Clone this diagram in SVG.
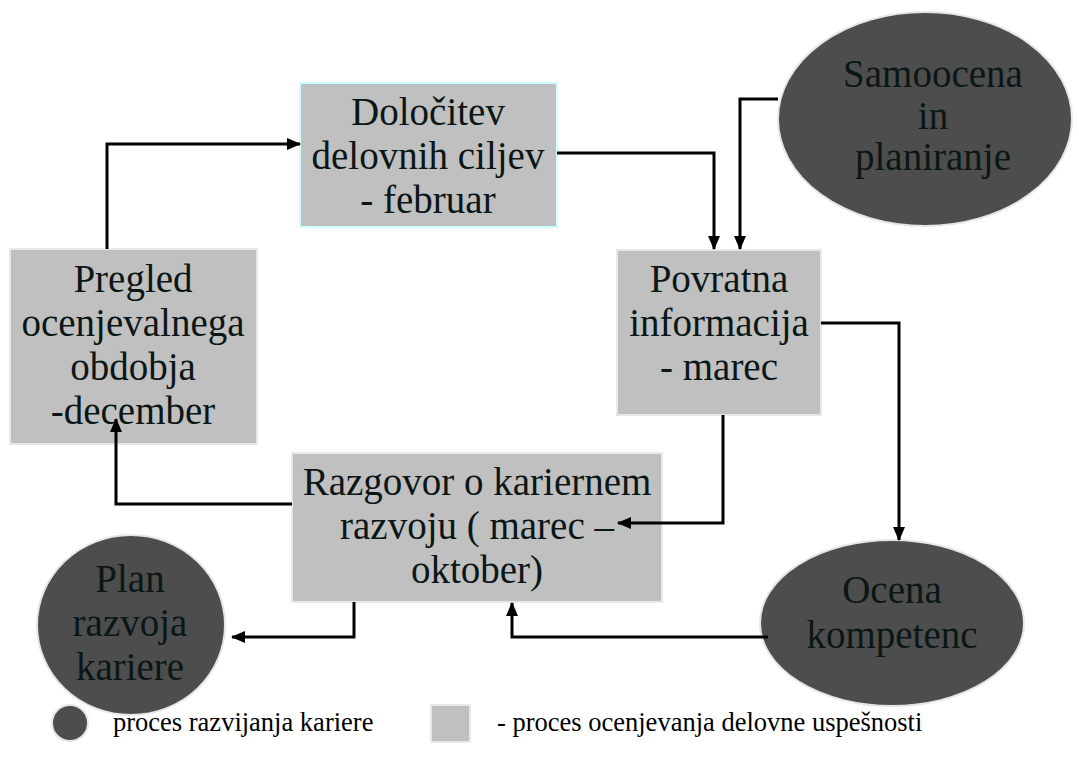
<svg xmlns="http://www.w3.org/2000/svg" width="1079" height="765" viewBox="0 0 1079 765">
  <style>
    .box { fill: #c0c0c0; stroke: #e8e8e8; stroke-width: 2; }
    .oval { fill: #4d4d4d; stroke: #e6e6e6; stroke-width: 2; }
    .lbl { font-size: 39px; fill: #0b1616; text-anchor: middle; }
    .leg { font-size: 26.5px; fill: #000; }
    .wire { fill: none; stroke: #000; stroke-width: 3; marker-end: url(#arrow); }
  </style>
  <defs>
    <marker id="arrow" viewBox="0 0 14 12" refX="13" refY="6" markerWidth="14" markerHeight="12" markerUnits="userSpaceOnUse" orient="auto">
      <path d="M0,0 L14,6 L0,12 Z" fill="#000"/>
    </marker>
  </defs>

  <rect width="1079" height="765" fill="#fff"/>

  <g font-family="'Liberation Serif', 'Times New Roman', serif">
    <!-- process boxes -->
    <g id="dolocitev">
      <rect class="box" x="300" y="83" width="257" height="144" style="stroke:#ccffff"/>
      <text class="lbl" x="428" y="125">Določitev</text>
      <text class="lbl" x="428" y="169">delovnih ciljev</text>
      <text class="lbl" x="428" y="213">- februar</text>
    </g>

    <g id="povratna">
      <rect class="box" x="617" y="250" width="204" height="165"/>
      <text class="lbl" x="719" y="292">Povratna</text>
      <text class="lbl" x="719" y="336">informacija</text>
      <text class="lbl" x="719" y="380">- marec</text>
    </g>

    <g id="razgovor">
      <rect class="box" x="292" y="453" width="370" height="149"/>
      <text class="lbl" x="477" y="495">Razgovor o kariernem</text>
      <text class="lbl" x="477" y="539">razvoju ( marec –</text>
      <text class="lbl" x="477" y="583">oktober)</text>
    </g>

    <g id="pregled">
      <rect class="box" x="10" y="249" width="247" height="195"/>
      <text class="lbl" x="133" y="292">Pregled</text>
      <text class="lbl" x="133" y="336">ocenjevalnega</text>
      <text class="lbl" x="133" y="380">obdobja</text>
      <text class="lbl" x="133" y="424">-december</text>
    </g>

    <!-- career development ovals -->
    <g id="samoocena">
      <ellipse class="oval" cx="925" cy="119" rx="147" ry="107"/>
      <text class="lbl" x="933" y="87">Samoocena</text>
      <text class="lbl" x="933" y="129">in</text>
      <text class="lbl" x="933" y="170">planiranje</text>
    </g>

    <g id="ocena">
      <ellipse class="oval" cx="892" cy="623" rx="132" ry="83"/>
      <text class="lbl" x="892" y="603">Ocena</text>
      <text class="lbl" x="892" y="648">kompetenc</text>
    </g>

    <g id="plan">
      <ellipse class="oval" cx="131" cy="625" rx="94" ry="90"/>
      <text class="lbl" x="130" y="592">Plan</text>
      <text class="lbl" x="130" y="636">razvoja</text>
      <text class="lbl" x="130" y="680">kariere</text>
    </g>

    <!-- legend -->
    <g id="legend">
      <circle class="oval" cx="70" cy="723" r="18"/>
      <text class="leg" x="113" y="731">proces razvijanja kariere</text>
      <rect class="box" x="431" y="705" width="39" height="37"/>
      <text class="leg" x="497" y="731">- proces ocenjevanja delovne uspešnosti</text>
    </g>
  </g>

  <!-- connectors -->
  <g id="connectors">
    <path class="wire" d="M107,249 V144 H300"/>
    <path class="wire" d="M557,153 H714 V249"/>
    <path class="wire" d="M778,99 H740 V249"/>
    <path class="wire" d="M821,323 H899 V540"/>
    <path class="wire" d="M723,415 V523 H618"/>
    <path class="wire" d="M768,637 H512 V603"/>
    <path class="wire" d="M292,504 H116 V419"/>
    <path class="wire" d="M354,602 V637 H232"/>
  </g>
</svg>
